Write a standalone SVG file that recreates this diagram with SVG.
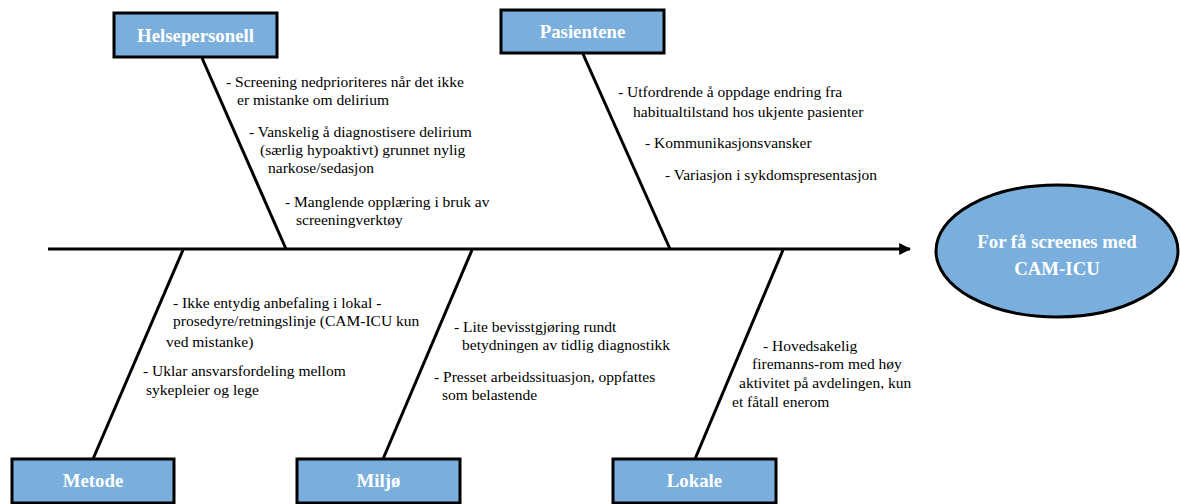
<svg xmlns="http://www.w3.org/2000/svg" width="1180" height="504" viewBox="0 0 1180 504">
<defs>
<style>
.box{fill:#7AAEDC;stroke:#000;stroke-width:3}
.lbl{font-family:"Liberation Serif","Times New Roman",serif;font-weight:bold;font-size:18.8px;fill:#fff;text-anchor:middle}
.t{font-family:"Liberation Serif","Times New Roman",serif;font-size:15.5px;fill:#000}
.bone{stroke:#000;stroke-width:3;fill:none}
</style>
<marker id="arr" viewBox="0 0 10 10" refX="9" refY="5" markerWidth="4" markerHeight="4" orient="auto" markerUnits="strokeWidth">
<path d="M0,0 L10,5 L0,10 Z" fill="#000"/>
</marker>
</defs>
<rect width="1180" height="504" fill="#fff"/>
<g id="connectors">
<line class="bone" x1="48" y1="249" x2="910" y2="249" stroke-width="3.5" marker-end="url(#arr)"/>
<line class="bone" x1="202" y1="58" x2="286" y2="249"/>
<line class="bone" x1="583" y1="54" x2="670" y2="249"/>
<line class="bone" x1="183" y1="250" x2="93" y2="459"/>
<line class="bone" x1="472" y1="250" x2="383" y2="459"/>
<line class="bone" x1="783" y1="250" x2="695" y2="459"/>
</g>
<g id="helsepersonell">
<rect class="box" x="114" y="13" width="163" height="44"/>
<text class="lbl" x="195.5" y="42">Helsepersonell</text>
<text class="t" x="226" y="87">- Screening nedprioriteres når det ikke</text>
<text class="t" x="237" y="105">er mistanke om delirium</text>
<text class="t" x="249" y="137">- Vanskelig å diagnostisere delirium</text>
<text class="t" x="260" y="155">(særlig hypoaktivt) grunnet nylig</text>
<text class="t" x="268" y="173">narkose/sedasjon</text>
<text class="t" x="285" y="207">- Manglende opplæring i bruk av</text>
<text class="t" x="296" y="225">screeningverktøy</text>
</g>
<g id="pasientene">
<rect class="box" x="501" y="10" width="163" height="43"/>
<text class="lbl" x="582.5" y="38">Pasientene</text>
<text class="t" x="618" y="97">- Utfordrende å oppdage endring fra</text>
<text class="t" x="633" y="117">habitualtilstand hos ukjente pasienter</text>
<text class="t" x="645" y="148">- Kommunikasjonsvansker</text>
<text class="t" x="665" y="180">- Variasjon i sykdomspresentasjon</text>
</g>
<g id="metode">
<rect class="box" x="12" y="459" width="162" height="44"/>
<text class="lbl" x="93" y="487">Metode</text>
<text class="t" x="173" y="308">- Ikke entydig anbefaling i lokal -</text>
<text class="t" x="173" y="326">prosedyre/retningslinje (CAM-ICU kun</text>
<text class="t" x="166" y="347">ved mistanke)</text>
<text class="t" x="143" y="376">- Uklar ansvarsfordeling mellom</text>
<text class="t" x="146" y="395">sykepleier og lege</text>
</g>
<g id="miljo">
<rect class="box" x="297" y="459" width="163" height="44"/>
<text class="lbl" x="378.5" y="487">Miljø</text>
<text class="t" x="454" y="332">- Lite bevisstgjøring rundt</text>
<text class="t" x="462" y="350">betydningen av tidlig diagnostikk</text>
<text class="t" x="434" y="382">- Presset arbeidssituasjon, oppfattes</text>
<text class="t" x="442" y="400">som belastende</text>
</g>
<g id="lokale">
<rect class="box" x="613" y="459" width="163" height="44"/>
<text class="lbl" x="694.5" y="487">Lokale</text>
<text class="t" x="763" y="351">- Hovedsakelig</text>
<text class="t" x="752" y="369">firemanns-rom med høy</text>
<text class="t" x="739" y="388">aktivitet på avdelingen, kun</text>
<text class="t" x="732" y="407">et fåtall enerom</text>
</g>
<g id="effekt">
<ellipse cx="1057" cy="251" rx="121" ry="66" fill="#7AAEDC" stroke="#000" stroke-width="3"/>
<text class="lbl" x="1057" y="248">For få screenes med</text>
<text class="lbl" x="1057" y="275">CAM-ICU</text>
</g>
</svg>
